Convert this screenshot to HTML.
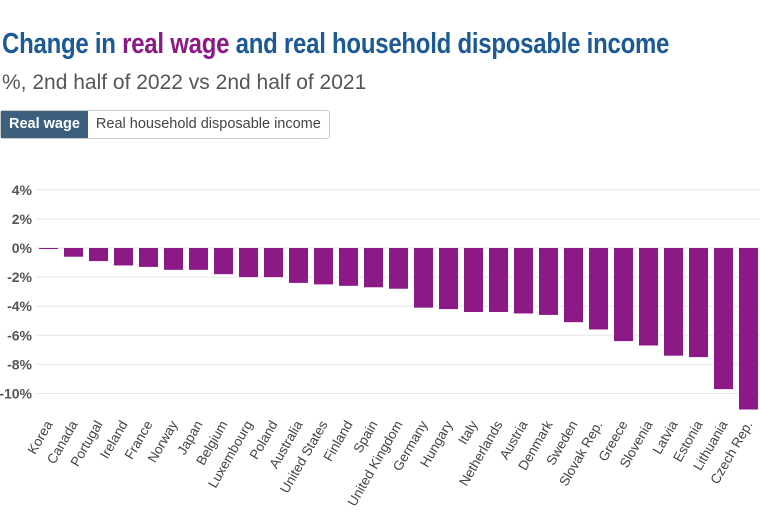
<!DOCTYPE html>
<html><head><meta charset="utf-8"><style>
body{margin:0;width:760px;height:523px;background:#fff;font-family:"Liberation Sans",sans-serif;overflow:hidden;position:relative}
#title{position:absolute;left:2px;top:28px;font-size:29px;font-weight:bold;color:#1c5a96;white-space:nowrap;transform:scaleX(0.827);transform-origin:left top;letter-spacing:-0.3px}
#title .p{color:#8b1a87}
#sub{position:absolute;left:2px;top:71px;font-size:21px;color:#555}
.tabs{position:absolute;left:0;top:110px;display:flex;border:1px solid #ccc;border-radius:3px;height:27px;font-size:14.5px}
.tab{padding:0 8px;line-height:27px;color:#444}
.tab.on{background:#3b5f7d;color:#fff;font-weight:bold}
</style></head><body>
<div id="title">Change in <span class="p">real wage</span> and real household disposable income</div>
<div id="sub">%, 2nd half of 2022 vs 2nd half of 2021</div>
<div class="tabs">
<div class="tab on">Real wage</div>
<div class="tab">Real household disposable income</div>
</div>
<svg id="c" width="760" height="523" style="position:absolute;left:0;top:0"></svg>
<script>
const countries=["Korea","Canada","Portugal","Ireland","France","Norway","Japan","Belgium","Luxembourg","Poland","Australia","United States","Finland","Spain","United Kingdom","Germany","Hungary","Italy","Netherlands","Austria","Denmark","Sweden","Slovak Rep.","Greece","Slovenia","Latvia","Estonia","Lithuania","Czech Rep."];
const values=[-0.05,-0.6,-0.9,-1.2,-1.3,-1.5,-1.5,-1.8,-2.0,-2.0,-2.4,-2.5,-2.6,-2.7,-2.8,-4.1,-4.2,-4.4,-4.4,-4.5,-4.6,-5.1,-5.6,-6.4,-6.7,-7.4,-7.5,-9.7,-11.1];
const ticks=[4,2,0,-2,-4,-6,-8,-10];
const ns="http://www.w3.org/2000/svg",svg=document.getElementById('c');
const y=v=>248-v*14.55;
const x=i=>39+i*25;
function mk(t,a){const e=document.createElementNS(ns,t);for(const k in a)e.setAttribute(k,a[k]);svg.appendChild(e);return e;}
ticks.forEach(t=>{
const g=mk('line',{x1:36,x2:760,y1:y(t),y2:y(t),stroke:'#e6e6e6','stroke-width':1});


const l=mk('text',{x:32,y:y(t)+5,'text-anchor':'end','font-size':14,fill:'#555','font-weight':'bold'});
l.textContent=t+'%';


});
values.forEach((v,i)=>{
const top=Math.min(y(0),y(v)),h=Math.max(1,Math.abs(y(v)-y(0)));
const b=mk('rect',{x:x(i),y:top,width:19,height:h,fill:'#8b1a87'});


const cx=x(i)+14,cy=424;
const t=mk('text',{x:cx,y:cy,'text-anchor':'end','font-size':13.5,fill:'#444',transform:`rotate(-60 ${cx} ${cy})`});
t.textContent=countries[i];


});
</script>
</body></html>
